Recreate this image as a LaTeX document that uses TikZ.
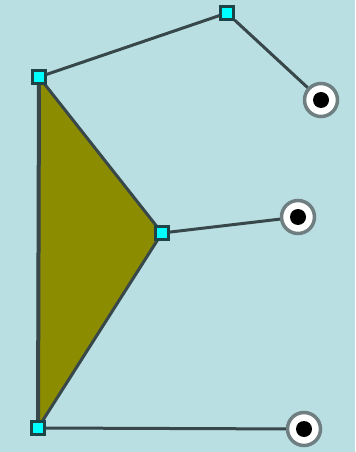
\documentclass[tikz,border=0pt]{standalone}
\usepackage{tikz}
\usetikzlibrary{arrows.meta,positioning}
\definecolor{kinbg}{HTML}{B9DFE3}
\definecolor{kinolive}{HTML}{8C8C00}
\definecolor{kinline}{HTML}{37474A}
\definecolor{kinjoint}{HTML}{00FFFF}
\definecolor{kinedge}{HTML}{1E4448}
\definecolor{kinring}{HTML}{6F7E80}
\tikzset{
  joint/.style={rectangle,draw=kinedge,fill=kinjoint,line width=0.05cm,minimum size=0.26cm,inner sep=0pt},
  target/.style={circle,draw=kinring,fill=white,line width=0.07cm,minimum size=0.66cm,inner sep=0pt,
    path picture={\fill[black] (path picture bounding box.center) circle (0.16cm);}},
  link/.style={draw=kinline,line width=0.06cm},
  wedge/.style={fill=kinolive,draw=kinline,line width=0.06cm,line join=round},
}
\begin{document}
\begin{tikzpicture}[x=0.02cm,y=-0.02cm]
% background
\fill[kinbg] (0,0) rectangle (355,452);
\useasboundingbox (0,0) rectangle (355,452);
% body
\coordinate (pa) at (39,77);
\coordinate (pc) at (162,233);
\coordinate (pd) at (38,428);
\filldraw[wedge] (pa) -- (pc) -- (pd) -- cycle;
\draw[link,line width=0.08cm] (pa) -- (pd);
% joints
\node[joint] (a) at (pa) {};
\node[joint] (b) at (227,13) {};
\node[joint] (c) at (pc) {};
\node[joint] (d) at (pd) {};
% targets
\node[target] (t1) at (321,100) {};
\node[target] (t2) at (298,217) {};
\node[target] (t3) at (304,429) {};
% links
\draw[link] (a) -- (b);
\draw[link] (b) -- (t1);
\draw[link] (c) -- (t2);
\draw[link] (d) -- (t3);
\end{tikzpicture}
\end{document}
